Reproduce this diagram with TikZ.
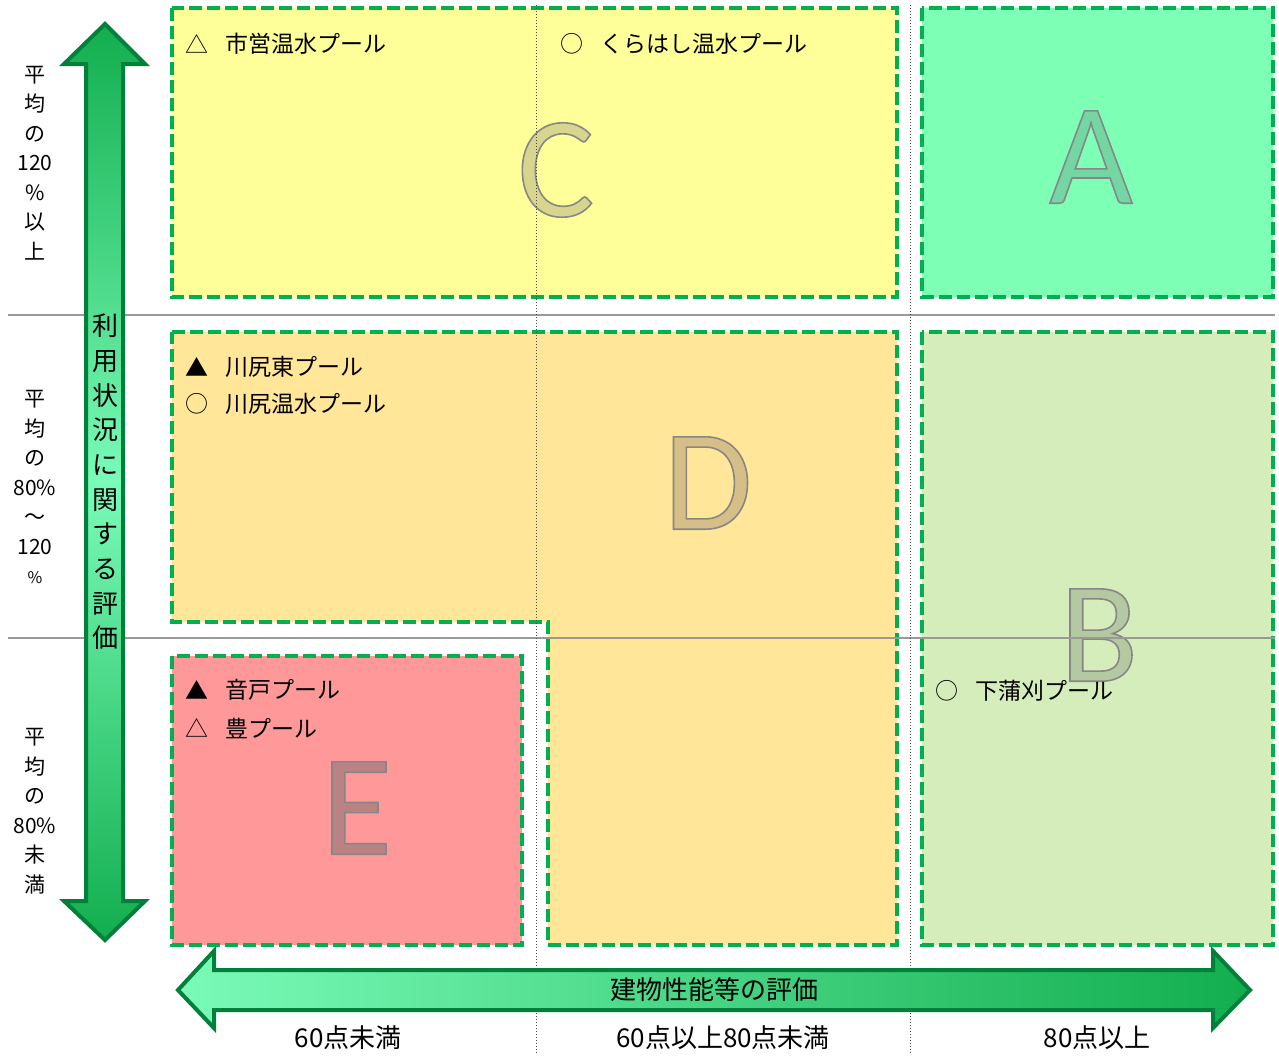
\documentclass[tikz,border=0pt]{standalone}
\usepackage{fontspec}
\setmainfont{Noto Sans CJK JP}
\newfontfamily\letterfont{Carlito}
\definecolor{dashgreen}{HTML}{00B050}
\definecolor{cyellow}{HTML}{FFFF99}
\definecolor{amint}{HTML}{7DFFB6}
\definecolor{dorange}{HTML}{FFE699}
\definecolor{blime}{HTML}{D5ECBB}
\definecolor{ered}{HTML}{FF9999}
\definecolor{cletter}{HTML}{D8D58E}
\definecolor{aletter}{HTML}{74D6A2}
\definecolor{dletter}{HTML}{D6BF87}
\definecolor{bletter}{HTML}{B4C8A2}
\definecolor{eletter}{HTML}{BA8282}
\definecolor{arrowdark}{HTML}{00803A}
\definecolor{arrowdeep}{HTML}{12AE4E}
\definecolor{arrowlight}{HTML}{7AFBB8}
\newcommand\outlined[1]{\special{pdf:literal direct 2 Tr 0.8 w 0.53 0.53 0.53 RG}#1\special{pdf:literal direct 0 Tr}}
\tikzset{
zone/.style={draw=dashgreen, line width=2pt, dash pattern=on 6.5pt off 2.5pt},
bigletter/.style={font=\letterfont\fontsize{72}{72}\selectfont},
hrule/.style={draw=gray!80, line width=1.4pt},
vrule/.style={draw=gray!60!black, densely dotted, line width=0.5pt},
poolsym/.style={font=\fontsize{11.5}{14}\selectfont, inner sep=0pt},
poolname/.style={anchor=west, font=\fontsize{11.5}{14}\selectfont, inner sep=0pt},
sidelabel/.style={align=center, font=\fontsize{10.5}{14.75}\selectfont},
axislabel/.style={font=\fontsize{13}{16}\selectfont},
bigarrow/.style={draw=arrowdark, line width=2pt}
}
\begin{document}
\begin{tikzpicture}[x=0.5pt,y=-0.5pt]
\useasboundingbox (0,0) rectangle (1279,1055);
\fill[white] (0,0) rectangle (1279,1055);
\draw[zone,fill=cyellow] (172,8) rectangle (897,297);
\draw[zone,fill=amint] (922,8) rectangle (1273,297);
\draw[zone,fill=dorange] (172,332) -- (897,332) -- (897,945) -- (548,945) -- (548,622) -- (172,622) -- cycle;
\draw[zone,fill=blime] (922,332) rectangle (1273,945);
\draw[zone,fill=ered] (172,656) rectangle (522,945);
\foreach \l/\x/\y/\c in {C/556/170/cletter, A/1091/157/aletter, D/708/483/dletter, B/1099/635/bletter, E/357/808/eletter}
{
\node[bigletter, text=\c] (\l) at (\x,\y) {\outlined{\l}};
}
\foreach \y in {315,638}
{
\draw[hrule] (8,\y) -- (1275,\y);
}
\foreach \x in {536,910}
{
\draw[vrule] (\x,5) -- (\x,1055);
}
\foreach \s/\x/\y/\t [count=\i] in {△/197/44/市営温水プール, ○/572/44/くらはし温水プール, ▲/197/367/川尻東プール, ○/197/404/川尻温水プール, ▲/197/690/音戸プール, △/197/728/豊プール, ○/947/691/下蒲刈プール}
{
\node[poolsym] (s\i) at (\x,\y) {\s};
\node[poolname] (p\i) at (\x+28,\y) {\t};
}
\node[sidelabel] (high) at (35,163) {平\\均\\の\\120\\\%\\以\\上};
\node[sidelabel] (mid) at (35,487) {平\\均\\の\\80\%\\～\\120\\{\fontsize{8}{10}\selectfont\%}};
\node[sidelabel] (low) at (35,811) {平\\均\\の\\80\%\\未\\満};
\path[bigarrow, top color=arrowdeep, bottom color=arrowdeep, middle color=arrowlight]
(105,24) -- (145,64) -- (123,64) -- (123,901) -- (145,901) -- (105,940) -- (64,901) -- (86,901) -- (86,64) -- (64,64) -- cycle;
\node[align=center, font=\fontsize{13}{17.35}\selectfont] (usage) at (105,482) {利\\用\\状\\況\\に\\関\\す\\る\\評\\価};
\path[bigarrow, left color=arrowlight, right color=arrowdeep]
(178,990) -- (214,951) -- (214,970) -- (1213,970) -- (1213,951) -- (1250,990) -- (1213,1028) -- (1213,1010) -- (214,1010) -- (214,1028) -- cycle;
\node[axislabel] (perf) at (714,990) {建物性能等の評価};
\node[axislabel] (r1) at (348,1038) {60点未満};
\node[axislabel] (r2) at (723,1038) {60点以上80点未満};
\node[axislabel] (r3) at (1097,1038) {80点以上};
\end{tikzpicture}
\end{document}
